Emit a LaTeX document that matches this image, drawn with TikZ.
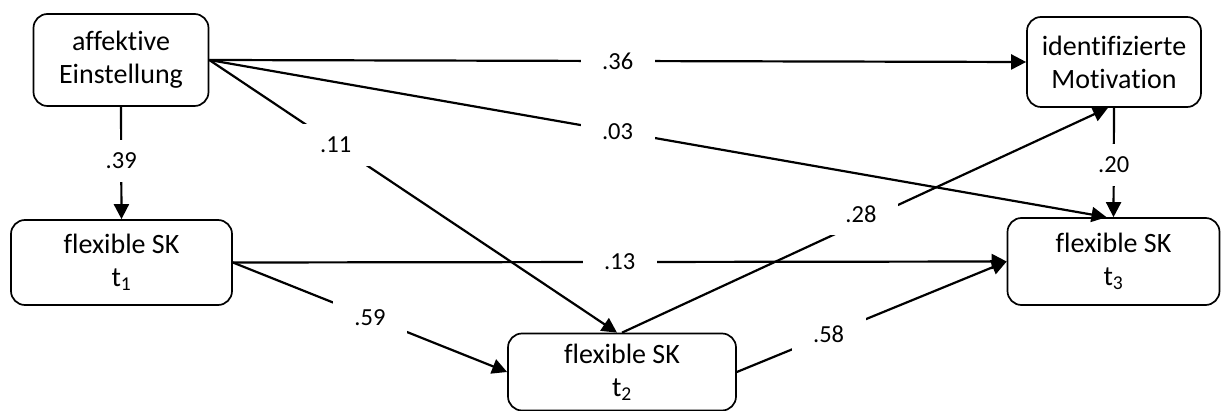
\documentclass[tikz,border=0pt]{standalone}
\usepackage{fontspec}
\setmainfont{Carlito}[Ligatures={NoCommon}]
\usetikzlibrary{arrows.meta}
\begin{document}
\begin{tikzpicture}[x=1pt,y=-1pt,
  box/.style={draw, line width=1.7pt, rounded corners=14pt, align=center,
    font=\fontsize{28}{33}\selectfont, inner sep=0pt},
  path/.style={line width=2.2pt, -{Triangle[length=15pt,width=15pt]}},
  lbl/.style={fill=white, inner sep=0pt, minimum width=74pt, minimum height=42pt,
    font=\fontsize{24.5}{28}\selectfont},
]
\useasboundingbox (0,0) rectangle (1221,411);

% variables
\node[box, minimum width=175pt, minimum height=92pt] (A) at (121,60) {affektive\\Einstellung};
\node[box, minimum width=174pt, minimum height=90pt] (IM) at (1114,62) {identifizierte\\Motivation};
\node[box, minimum width=221pt, minimum height=85pt] (T1) at (121.5,262.5) {flexible SK\\t\textsubscript{1}};
\node[box, minimum width=212pt, minimum height=87pt] (T3) at (1113.5,261.5) {flexible SK\\t\textsubscript{3}};
\node[box, minimum width=228pt, minimum height=77pt] (T2) at (622,372) {flexible SK\\t\textsubscript{2}};

% paths with coefficients
\draw[path] (A.east) -- node[lbl, pos=0.5] {.36} (IM.west);
\draw[path] (A.east) -- node[lbl, pos=0.455] {.03} ([xshift=-7pt]T3.north);
\draw[path] (A.east) -- node[lbl, pos=0.31] {.11} ([xshift=-5pt]T2.north);
\draw[path] (A.south) -- node[lbl, pos=0.48] {.39} (T1.north);
\draw[path] (T1.east) -- node[lbl, pos=0.5] {.13} (T3.west);
\draw[path] (T1.east) -- node[lbl, pos=0.5] {.59} (T2.west);
\draw[path] (T2.north) -- node[lbl, pos=0.5, xshift=-4pt, yshift=6pt] {.28} ([xshift=-6pt]IM.south);
\draw[path] (T2.east) -- node[lbl, pos=0.34] {.58} (T3.west);
\draw[path] (IM.south) -- node[lbl, pos=0.52] {.20} (T3.north);
\end{tikzpicture}
\end{document}
